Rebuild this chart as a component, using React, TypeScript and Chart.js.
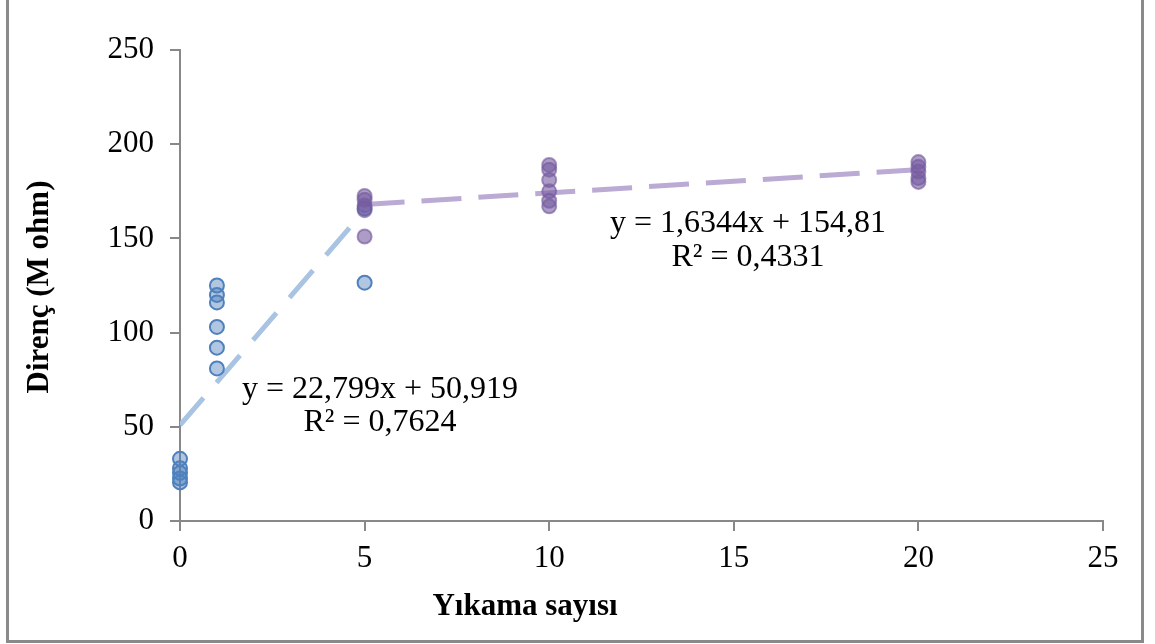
import React, { useEffect, useRef } from "react";
import { Chart, registerables } from "chart.js";

Chart.register(...registerables);

// Series 1 (blue)
const s1X = [0, 0, 0, 0, 0, 1, 1, 1, 1, 1, 1, 5, 5];
const s1Y = [33, 28, 25.5, 22.5, 20.5, 125, 120, 116, 103, 92, 81, 126.5, 166];
// Series 2 (purple)
const s2X = [5, 5, 5, 5, 5, 10, 10, 10, 10, 10, 10, 20, 20, 20, 20, 20];
const s2Y = [172.5, 170.5, 167.5, 165, 151, 189, 186.5, 181, 175, 170, 167, 190.5, 188, 185.5, 182, 180];
// Trend lines (as drawn)
const t1X = [0, 5];
const t1Y = [50.919, 164.9];
const t2X = [5, 20];
const t2Y = [168, 186.5];

const eq1 = ["y = 22,799x + 50,919", "R² = 0,7624"];
const eq2 = ["y = 1,6344x + 154,81", "R² = 0,4331"];

const xTitle = "Yıkama sayısı";
const yTitle = "Direnç (M ohm)";

const pts = (xs: number[], ys: number[]) => xs.map((x, i) => ({ x, y: ys[i] }));

const SERIF = "'Liberation Serif', 'Times New Roman', serif";

export default function App() {
  const ref = useRef<HTMLCanvasElement | null>(null);
  useEffect(() => {
    if (!ref.current) return;
    const labelsPlugin = {
      id: "eqLabels",
      afterDatasetsDraw(chart: any) {
        const ctx = chart.ctx;
        ctx.save();
        ctx.fillStyle = "#000";
        ctx.font = `32px ${SERIF}`;
        ctx.textAlign = "center";
        ctx.textBaseline = "alphabetic";
        ctx.fillText(eq1[0], 380, 398);
        ctx.fillText(eq1[1], 380, 431);
        ctx.fillText(eq2[0], 748, 232);
        ctx.fillText(eq2[1], 748, 266);
        // axis titles
        ctx.font = `bold 31px ${SERIF}`;
        ctx.textBaseline = "middle";
        ctx.fillText(xTitle, 525, 607);
        ctx.translate(40, 287);
        ctx.rotate(-Math.PI / 2);
        ctx.fillText(yTitle, 0, 0);
        ctx.restore();
      },
    };
    const tickFont = { family: SERIF, size: 31 };
    const chart = new Chart(ref.current, {
      type: "scatter",
      data: {
        datasets: [
          {
            type: "line",
            data: pts(t1X, t1Y),
            borderColor: "#A9C3E2",
            borderWidth: 5,
            borderDash: [36, 20],
            pointRadius: 0,
            fill: false,
            order: 3,
          } as any,
          {
            type: "line",
            data: pts(t2X, t2Y),
            borderColor: "#BBAAD3",
            borderWidth: 5,
            borderDash: [40, 17],
            pointRadius: 0,
            fill: false,
            order: 3,
          } as any,
          {
            data: pts(s1X, s1Y),
            backgroundColor: "rgba(79,129,189,0.45)",
            borderColor: "#4F81BD",
            borderWidth: 2,
            pointRadius: 7,
            clip: false,
            order: 2,
          } as any,
          {
            data: pts(s2X, s2Y),
            backgroundColor: "rgba(118,92,160,0.6)",
            borderColor: "rgba(118,92,160,0.65)",
            borderWidth: 2,
            pointRadius: 7,
            clip: false,
            order: 1,
          } as any,
        ],
      },
      options: {
        animation: false,
        responsive: false,
        devicePixelRatio: 1,
        layout: { padding: { top: 50, right: 52, left: 0, bottom: 0 } },
        plugins: { legend: { display: false }, tooltip: { enabled: false } },
        scales: {
          x: {
            type: "linear",
            min: 0,
            max: 25,
            ticks: { stepSize: 5, color: "#000", font: tickFont, padding: 9, maxRotation: 0 },
            grid: { drawOnChartArea: false, drawTicks: true, tickLength: 10, color: "#888", lineWidth: 2 },
            border: { color: "#888", width: 2 },
            afterFit: (s: any) => {
              s.height = 123;
            },
          },
          y: {
            type: "linear",
            min: 0,
            max: 250,
            ticks: { stepSize: 50, color: "#000", font: tickFont, padding: 16 },
            grid: { drawOnChartArea: false, drawTicks: true, tickLength: 10, color: "#888", lineWidth: 2 },
            border: { color: "#888", width: 2 },
            afterFit: (s: any) => {
              s.width = 180;
            },
          },
        },
      },
      plugins: [labelsPlugin],
    });
    return () => chart.destroy();
  }, []);
  return (
    <div style={{ position: "fixed", left: 0, top: 0, width: 1155, height: 644, background: "#fff" }}>
      <canvas ref={ref} width={1155} height={644} style={{ position: "absolute", left: 0, top: 0 }} />
      <div
        style={{
          position: "absolute",
          left: 6,
          top: -10,
          width: 1138,
          height: 653,
          border: "3px solid #8a8a8a",
          boxSizing: "border-box",
          pointerEvents: "none",
        }}
      />
    </div>
  );
}
